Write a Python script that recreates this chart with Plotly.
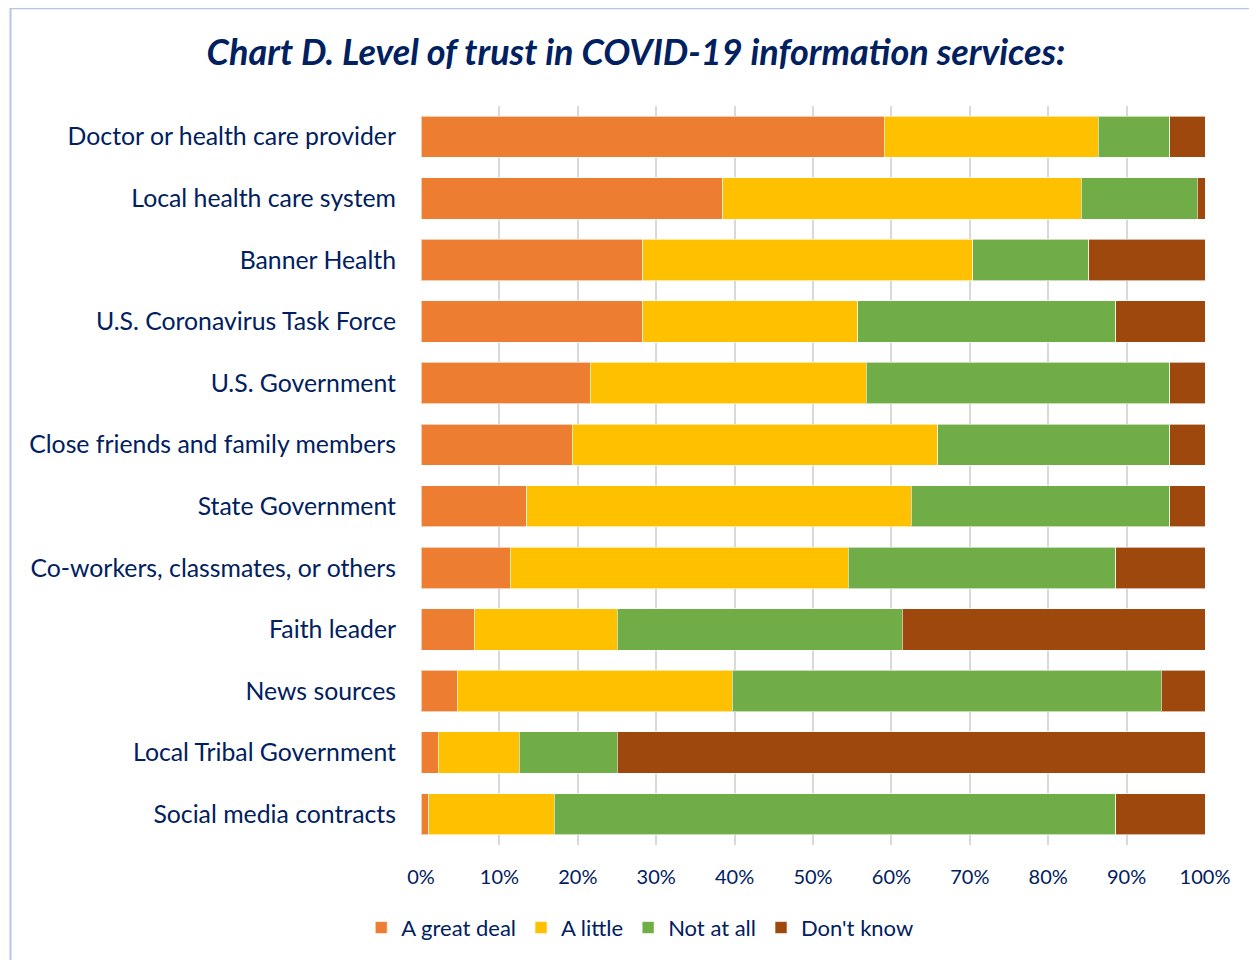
import plotly.graph_objects as go

# trust in COVID-19 information services, share of respondents (%)
sources = ["Doctor or health care provider", "Local health care system", "Banner Health",
           "U.S. Coronavirus Task Force", "U.S. Government", "Close friends and family members",
           "State Government", "Co-workers, classmates, or others", "Faith leader",
           "News sources", "Local Tribal Government", "Social media contracts"]

great_deal = [59.1, 38.5, 28.3, 28.3, 21.6, 19.3, 13.5, 11.4, 6.8, 4.6, 2.2, 1.0]
a_little = [27.3, 45.7, 42.1, 27.4, 35.2, 46.6, 49.0, 43.1, 18.2, 35.1, 10.3, 16.0]
not_at_all = [9.1, 14.8, 14.8, 32.9, 38.7, 29.6, 33.0, 34.1, 36.4, 54.7, 12.5, 71.6]
dont_know = [4.5, 1.0, 14.8, 11.4, 4.5, 4.5, 4.5, 11.4, 38.6, 5.6, 75.0, 11.4]

series = [("A great deal", great_deal, "#ED7D31"),
          ("A little", a_little, "#FFC000"),
          ("Not at all", not_at_all, "#70AD47"),
          ("Don't know", dont_know, "#9E480E")]

navy = "#002060"
font = "Lato"

fig = go.Figure()
for name, vals, col in series:
    fig.add_trace(go.Bar(name=name, y=sources, x=vals, orientation="h",
                         marker=dict(color=col, line=dict(color="rgba(255,255,255,0.6)", width=1)),
                         hoverinfo="x+name"))

# page body adds an 8px offset, so margins are shifted accordingly
fig.update_layout(
    barmode="stack", bargap=0.33,
    width=1257, height=960, autosize=False,
    paper_bgcolor="white", plot_bgcolor="white",
    margin=dict(l=413, r=60, t=98, b=123),
    font=dict(family=font, color=navy),
    title=dict(text="<b><i>Chart D. Level of trust in COVID-19 information services:</i></b>",
               x=628 / 1257, xanchor="center", y=1 - 44 / 960, yanchor="middle",
               font=dict(size=36, color=navy, family=font)),
    legend=dict(orientation="h", x=0.279, xanchor="center", y=-0.112, yanchor="middle",
                font=dict(size=22, color=navy), traceorder="normal",
                itemwidth=30, tracegroupgap=0),
    shapes=[dict(type="line", xref="paper", yref="paper",
                 x0=-410.5 / 784, x1=-410.5 / 784, y0=-0.3, y1=1 + 97.5 / 739,
                 line=dict(color="#B4C7E7", width=2)),
            dict(type="line", xref="paper", yref="paper",
                 x0=-411.5 / 784, x1=1.2, y0=1 + 97.5 / 739, y1=1 + 97.5 / 739,
                 line=dict(color="#B4C7E7", width=1.5))],
)
fig.update_xaxes(range=[0, 100], dtick=10, ticksuffix="%", showgrid=True,
                 gridcolor="#D9D9D9", gridwidth=1.5, zeroline=False, showline=False,
                 tickfont=dict(size=20, color=navy), ticklabelstandoff=18)
fig.update_yaxes(autorange="reversed", showgrid=False, showline=False,
                 tickfont=dict(size=24.8, color=navy), ticklabelstandoff=24)

fig.write_html("out.html")
